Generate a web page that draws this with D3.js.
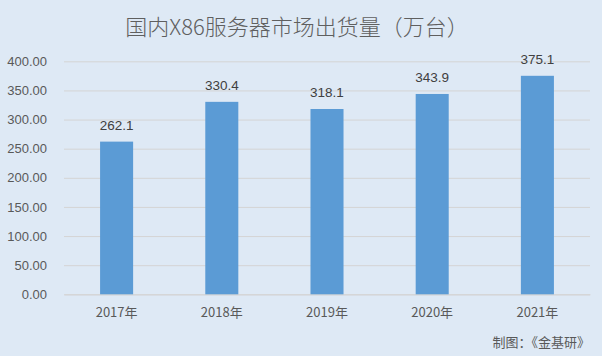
<!DOCTYPE html>
<html><head><meta charset="utf-8">
<script src="https://cdn.jsdelivr.net/npm/d3@7"></script>
<style>html,body{margin:0;padding:0;background:#dee9f5;}svg{display:block;}</style>
</head><body>
<svg id="c" width="602" height="356"></svg>
<script>
const categories = ["2017年","2018年","2019年","2020年","2021年"];
const values = [262.1, 330.4, 318.1, 343.9, 375.1];
const yTicks = [0,50,100,150,200,250,300,350,400];
const title = "国内X86服务器市场出货量（万台）";
const source = "制图：《金基研》";

const svg = d3.select("#c");
const W = 602, H = 356;
svg.append("rect").attr("width",W).attr("height",H).attr("fill","#dee9f5");
const m = {left:64, right:12, top:61.3, bottom:61.7};
const x = d3.scaleBand().domain(categories).range([m.left, W-m.right]).padding(0);
const y = d3.scaleLinear().domain([0,400]).range([H-m.bottom, m.top]);
const font = "'Noto Sans CJK SC','Microsoft YaHei',sans-serif";

svg.append("text").attr("x",297).attr("y",34.5).attr("text-anchor","middle")
  .attr("font-family",font).attr("font-size",22).attr("font-weight",300).attr("fill","#5f5f5f").text(title);

const ya = svg.append("g").attr("transform",`translate(${m.left},0)`)
  .call(d3.axisLeft(y).tickValues(yTicks).tickSize(-(W-m.left-m.right)).tickFormat(d=>d3.format(".2f")(d)));
ya.select(".domain").remove();
ya.selectAll(".tick line").attr("stroke","#d4d4d4").attr("stroke-width",1);
ya.selectAll(".tick text").attr("x",-17).attr("fill","#595959").attr("font-size",13).attr("font-family","'Liberation Sans',Arial,sans-serif");

const xa = svg.append("g").attr("transform",`translate(0,${H-m.bottom})`)
  .call(d3.axisBottom(x).tickSize(0));
xa.select(".domain").attr("stroke","#d4d4d4");
xa.selectAll(".tick text").attr("dy","1.55em").attr("fill","#595959").attr("font-size",13).attr("font-family",font);

const bw = x.bandwidth()*0.314;
svg.selectAll("rect.bar").data(values).enter().append("rect").attr("class","bar")
  .attr("x",(d,i)=>x(categories[i])+x.bandwidth()/2-bw/2)
  .attr("y",d=>y(d)).attr("width",bw).attr("height",d=>y(0)-y(d)).attr("fill","#5b9bd5");

svg.selectAll("text.lbl").data(values).enter().append("text").attr("class","lbl")
  .attr("x",(d,i)=>x(categories[i])+x.bandwidth()/2)
  .attr("y",d=>y(d)-12).attr("text-anchor","middle")
  .attr("font-family","'Liberation Sans',Arial,sans-serif").attr("font-size",13.5).attr("fill","#404040")
  .text(d=>d3.format(".1f")(d));

svg.append("text").attr("x",590).attr("y",347).attr("text-anchor","end")
  .attr("font-family",font).attr("font-size",13).attr("fill","#595959").text(source);
</script>
</body></html>
